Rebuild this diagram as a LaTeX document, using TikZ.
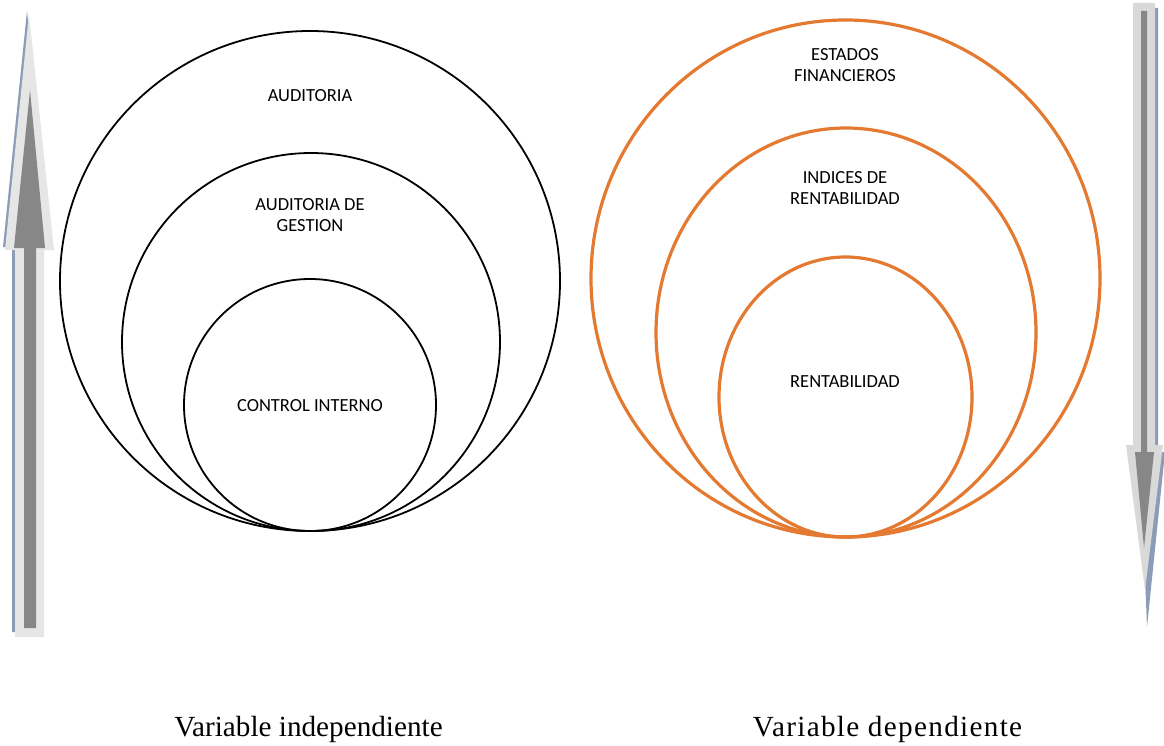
\documentclass[tikz,border=0pt]{standalone}
\usepackage{fontspec}
\setmainfont{Liberation Serif}
\newfontfamily\labelfont{Carlito}
\newfontfamily\widecaptionfont[LetterSpace=4.5]{Liberation Serif}
\begin{document}
\begin{tikzpicture}[x=1pt,y=-1pt,
  ringblack/.style={draw=black,line width=1.8pt},
  ringorange/.style={draw=ringorg,line width=3.2pt},
  ringlabel/.style={font=\labelfont\fontsize{18.5}{20.5}\selectfont,align=center,inner sep=0pt},
  caption/.style={font=\fontsize{29.2}{32}\selectfont,inner sep=0pt,anchor=base}]
\definecolor{ringorg}{HTML}{E47A31}
\definecolor{arrowlight}{HTML}{E6E6E6}
\definecolor{arrowlightb}{HTML}{D9D9D9}
\definecolor{arrowdark}{HTML}{878787}
\definecolor{arrowshadow}{HTML}{8C9CB6}
\useasboundingbox (0,0) rectangle (1164,746);

% ---- upward arrow (independent variable) ----
\fill[arrowshadow] (27,11) -- (51,247) -- (41,247) -- (41,632) -- (12,632) -- (12,247) -- (3,247) -- cycle;
\fill[arrowlight] (29,14) -- (54,250) -- (44,250) -- (44,637) -- (15,637) -- (15,250) -- (5,250) -- cycle;
\fill[arrowdark] (30,90) -- (45,248) -- (36,248) -- (36,628) -- (24,628) -- (24,248) -- (14,248) -- cycle;

% ---- downward arrow (dependent variable) ----
\fill[arrowshadow] (1136,8) -- (1158,8) -- (1158,452) -- (1165,452) -- (1147,627) -- (1140,452) -- (1136,452) -- cycle;
\fill[arrowlightb] (1133,3) -- (1155,3) -- (1155,445) -- (1163,445) -- (1145,590) -- (1126,445) -- (1133,445) -- cycle;
\fill[arrowdark] (1141,11) -- (1147,11) -- (1147,452) -- (1154,452) -- (1144,548) -- (1135,452) -- (1141,452) -- cycle;

% ---- nested rings, left ----
\draw[ringblack] (310,281) circle [radius=250];
\draw[ringblack] (311,342) circle [radius=189];
\draw[ringblack] (310,405) circle [radius=126];

\node[ringlabel] (aud) at (310,96) {AUDITORIA};
\node[ringlabel] (audg) at (310,215) {AUDITORIA DE\\GESTION};
\node[ringlabel] (ci) at (310,406) {CONTROL INTERNO};

% ---- nested rings, right ----
\draw[ringorange] (845.5,278.5) ellipse [x radius=254.5, y radius=258.5];
\draw[ringorange] (846,332.5) ellipse [x radius=190, y radius=204.5];
\draw[ringorange] (845.5,397) ellipse [x radius=126.5, y radius=140];

\node[ringlabel] (ef) at (845,65) {ESTADOS\\FINANCIEROS};
\node[ringlabel] (ir) at (845,188) {INDICES DE\\RENTABILIDAD};
\node[ringlabel] (rent) at (845,382) {RENTABILIDAD};

% ---- captions ----
\node[caption] (vi) at (308.5,736) {Variable independiente};
\node[caption] (vd) at (887.5,736) {\widecaptionfont Variable dependiente};
\end{tikzpicture}
\end{document}
